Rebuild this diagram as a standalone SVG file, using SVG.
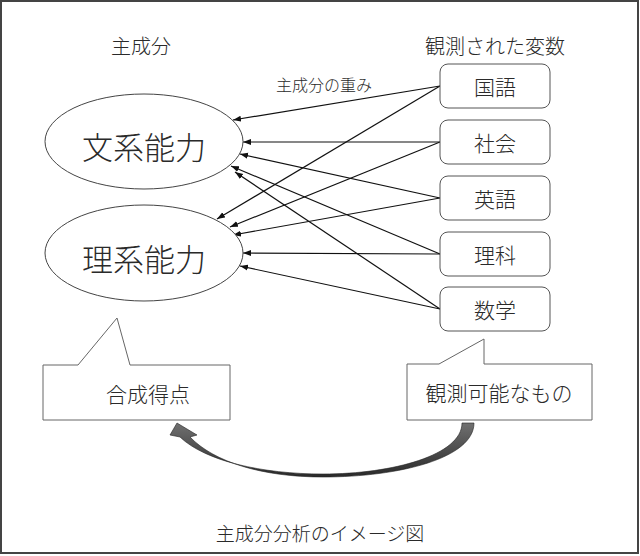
<svg xmlns="http://www.w3.org/2000/svg" width="640" height="556" viewBox="0 0 640 556">
<defs>
<style>
text{font-family:"Noto Sans CJK JP","Noto Sans",sans-serif;font-weight:300;fill:#2a2a2a;text-anchor:middle;dominant-baseline:central}
.ell{fill:#fff;stroke:#444;stroke-width:1}
.box{fill:#fff;stroke:#555;stroke-width:1}
.call{fill:#fff;stroke:#666;stroke-width:1}
.ln{stroke:#111;stroke-width:1.2;fill:none;marker-end:url(#ah)}
</style>
<marker id="ah" markerUnits="userSpaceOnUse" markerWidth="9" markerHeight="7" refX="8" refY="3.5" orient="auto">
<path d="M0,0.5 L8,3.5 L0,6.5 Z" fill="#111"/>
</marker>
<linearGradient id="cg" x1="0" y1="0" x2="0" y2="1">
<stop offset="0" stop-color="#707070"/>
<stop offset="1" stop-color="#2a2a2a"/>
</linearGradient>
</defs>
<rect x="1" y="1" width="637" height="552" fill="#fff" stroke="#444" stroke-width="2"/>
<g id="titles">
<text x="141" y="45" font-size="20">主成分</text>
<text x="495" y="45" font-size="20">観測された変数</text>
<text x="324" y="84" font-size="16">主成分の重み</text>
<text x="320" y="532" font-size="19">主成分分析のイメージ図</text>
</g>
<g id="connectors">
<line class="ln" x1="440" y1="86" x2="233" y2="120"/>
<line class="ln" x1="440" y1="86" x2="217" y2="219"/>
<line class="ln" x1="440" y1="142" x2="243" y2="142"/>
<line class="ln" x1="440" y1="142" x2="230" y2="227"/>
<line class="ln" x1="440" y1="198" x2="240" y2="154"/>
<line class="ln" x1="440" y1="198" x2="233" y2="235"/>
<line class="ln" x1="440" y1="254" x2="231" y2="166"/>
<line class="ln" x1="440" y1="254" x2="243" y2="253"/>
<line class="ln" x1="440" y1="309" x2="235" y2="172"/>
<line class="ln" x1="440" y1="309" x2="240" y2="266"/>
</g>
<g id="bunkei">
<ellipse class="ell" cx="144" cy="141.5" rx="99" ry="47.5"/>
<text x="144" y="145" font-size="31">文系能力</text>
</g>
<g id="rikei">
<ellipse class="ell" cx="144" cy="253" rx="99" ry="48"/>
<text x="144" y="257" font-size="31">理系能力</text>
</g>
<g id="kokugo"><rect class="box" x="440" y="64" width="110" height="44" rx="8"/><text x="495" y="86" font-size="21">国語</text></g>
<g id="shakai"><rect class="box" x="440" y="120" width="110" height="44" rx="8"/><text x="495" y="142" font-size="21">社会</text></g>
<g id="eigo"><rect class="box" x="440" y="176" width="110" height="44" rx="8"/><text x="495" y="198" font-size="21">英語</text></g>
<g id="rika"><rect class="box" x="440" y="232" width="110" height="44" rx="8"/><text x="495" y="254" font-size="21">理科</text></g>
<g id="sugaku"><rect class="box" x="440" y="287" width="110" height="44" rx="8"/><text x="495" y="309" font-size="21">数学</text></g>
<g id="gousei">
<path class="call" d="M43,365 L78,365 L117,318 L130,365 L230,365 L230,420 L43,420 Z"/>
<text x="148" y="393" font-size="21">合成得点</text>
</g>
<g id="kansoku">
<path class="call" d="M407,364 L439,364 L484,339 L484,364 L592,364 L592,420 L407,420 Z"/>
<text x="499" y="392" font-size="21">観測可能なもの</text>
</g>
<g id="curved-arrow">
<path d="M462,423 L474,423 C474,458 400,477 323,477 C262,477 214,462 190,437 L197,435 L177,423 L170,435 L180,437 C205,461 262,474 323,474 C393,474 462,455 462,423 Z" fill="url(#cg)" stroke="#222" stroke-width="0.6"/>
</g>
</svg>
